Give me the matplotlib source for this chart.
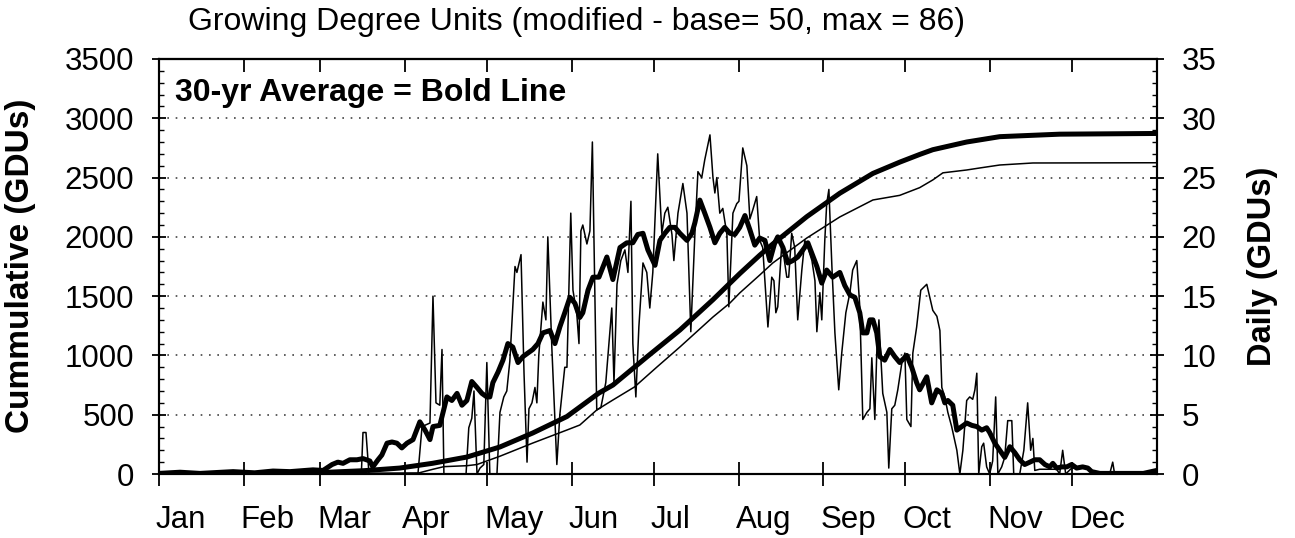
import matplotlib
matplotlib.use("Agg")
import matplotlib.pyplot as plt
import matplotlib.transforms as mtransforms
from matplotlib.ticker import MultipleLocator, FixedLocator, NullFormatter
import numpy as np

plt.rcParams['font.family'] = ['Liberation Sans', 'DejaVu Sans']

# ---------------- data (day of year, value) ----------------
months = ["Jan", "Feb", "Mar", "Apr", "May", "Jun", "Jul", "Aug", "Sep", "Oct", "Nov", "Dec"]
month_days = [31, 28, 31, 30, 31, 30, 31, 31, 30, 31, 30, 31]

avg_daily = [
    (0, 0.05), (7.7, 0.15), (15, 0.05), (27.1, 0.2), (35, 0.1), (41.7, 0.25), (47.9, 0.2),
    (56.3, 0.35), (60.0, 0.3),
    (63.3, 0.8), (65.4, 1.0), (67.3, 0.9), (69.8, 1.2), (72.4, 1.2), (74.6, 1.3), (77.1, 1.1),
    (78.2, 0.6), (80.1, 1.2), (81.5, 1.6), (83.4, 2.6), (85.2, 2.7), (87.0, 2.6), (88.8, 2.2),
    (90.7, 2.6), (92.9, 2.9), (95.4, 4.4), (97.3, 3.7), (99.1, 2.9), (100.2, 4.0), (102.7, 4.1),
    (105.3, 6.5), (107.1, 6.2), (109.0, 6.8), (110.8, 5.8), (112.6, 6.2), (114.4, 7.8),
    (116.3, 7.3), (118.1, 6.8), (119.9, 6.5), (121.0, 6.5), (122.1, 7.7), (124.0, 8.6),
    (125.8, 9.6), (127.6, 11.0), (129.4, 10.7), (131.3, 9.4), (133.1, 9.9), (134.9, 10.2),
    (136.7, 10.5), (138.6, 11.0), (140.4, 11.9), (143.0, 12.1), (144.8, 11.0), (146.6, 12.4),
    (148.4, 13.6), (150.3, 14.9), (152.1, 14.4), (153.9, 13.2), (155.0, 13.6), (156.9, 15.5),
    (158.7, 16.6), (160.9, 16.6), (163.8, 18.3), (166.0, 16.4), (168.6, 19.1), (171.1, 19.5),
    (173.3, 19.5), (175.1, 20.2), (177.0, 20.3), (178.8, 18.9), (181.4, 17.6), (183.2, 19.7),
    (185.0, 20.3), (186.8, 20.8), (188.7, 20.8), (190.5, 20.3), (193.1, 19.7), (194.9, 20.3),
    (196.0, 21.2), (197.8, 23.1), (199.6, 22.0), (201.5, 20.8), (203.3, 19.5), (205.1, 20.3),
    (206.9, 20.8), (208.8, 20.3), (210.6, 20.2), (212.4, 20.8), (214.3, 21.8), (216.1, 20.6),
    (217.9, 19.3), (219.7, 19.9), (221.6, 19.7), (223.4, 18.0), (225.2, 19.5), (226.3, 20.0),
    (228.2, 19.1), (230.0, 17.8), (231.8, 18.0), (233.6, 18.3), (235.5, 18.9), (237.3, 19.5),
    (238.8, 18.6), (240.6, 17.5), (242.4, 16.1), (244.2, 17.2), (246.4, 16.6), (249.0, 17.0),
    (250.8, 15.9), (252.7, 15.1), (254.5, 14.9), (256.3, 13.6), (257.4, 11.9), (258.9, 11.9),
    (260.0, 13.0), (261.1, 13.0), (262.5, 11.9), (263.6, 9.9), (265.4, 9.6), (267.3, 10.5),
    (269.1, 9.9), (270.9, 9.4), (273.5, 10.0), (275.3, 9.0), (277.1, 7.7), (278.2, 7.1),
    (280.8, 8.2), (282.6, 6.0), (284.5, 7.1), (286.3, 6.8), (287.4, 6.0), (288.5, 6.2),
    (290.3, 5.8), (291.8, 3.7), (293.6, 4.0), (295.4, 4.3), (297.3, 4.1), (299.1, 4.0),
    (300.9, 3.7), (302.7, 3.9), (303.8, 3.5), (305.7, 2.6), (307.5, 2.0), (309.3, 1.4),
    (311.2, 2.3), (313.0, 1.8), (314.8, 1.2), (316.6, 0.8), (318.5, 1.0), (320.3, 1.2),
    (322.1, 1.2), (324.0, 0.8), (325.8, 0.6), (326.9, 0.9), (328.3, 0.5), (330.2, 0.6),
    (332.0, 0.6), (333.8, 0.8), (335.6, 0.5), (337.8, 0.6), (339.7, 0.5), (341.1, 0.2),
    (344.1, 0.05), (360, 0.05), (364.9, 0.3),
]

cur_daily = [
    (0, 0), (74.0, 0), (74.6, 3.5), (75.7, 3.5), (76.8, 0), (94.7, 0), (96.2, 4.0), (99.1, 4.3),
    (100.2, 15.0), (101.3, 6.0), (102.7, 5.8), (103.5, 10.5), (104.2, 0), (112.3, 0), (113.3, 3.9),
    (114.4, 4.7), (115.2, 7.0), (116.3, 0), (117.4, 0.5), (118.8, 0.8), (119.9, 9.4), (121.0, 0),
    (123.6, 0), (124.7, 5.2), (126.1, 6.5), (127.2, 7.0), (128.3, 9.5), (130.2, 17.5), (130.9, 17.0),
    (132.4, 18.5), (133.5, 8.5), (134.6, 1.0), (135.3, 5.5), (136.4, 6.0), (137.5, 7.3), (138.2, 6.0),
    (138.9, 10.0), (140.4, 14.5), (141.5, 13.0), (142.2, 20.0), (143.7, 10.5), (145.5, 0.8),
    (146.6, 5.0), (148.4, 9.0), (149.2, 9.0), (150.6, 22.0), (151.4, 15.5), (152.8, 13.5),
    (153.6, 11.0), (154.3, 20.5), (155.0, 21.0), (156.5, 19.4), (157.6, 20.5), (158.5, 28.0),
    (160.1, 5.4), (161.6, 5.6), (163.4, 7.7), (165.6, 14.0), (166.4, 7.7), (167.5, 16.0),
    (168.9, 18.0), (170.4, 18.9), (171.5, 17.0), (172.6, 23.0), (173.3, 11.0), (174.4, 6.5),
    (175.5, 12.4), (177.0, 17.8), (178.4, 17.0), (179.5, 14.0), (180.6, 17.0), (182.4, 27.0),
    (183.9, 20.3), (185.0, 22.0), (186.1, 22.5), (187.6, 20.2), (188.3, 18.0), (189.8, 22.0),
    (191.6, 24.5), (193.1, 22.0), (194.5, 12.0), (196.0, 20.3), (197.1, 25.5), (198.5, 25.0),
    (199.6, 26.5), (201.5, 28.6), (202.6, 25.0), (203.3, 23.7), (204.0, 25.0), (205.1, 22.0),
    (206.2, 22.4), (207.7, 20.2), (208.4, 14.1), (209.9, 22.0), (211.3, 22.8), (212.1, 23.0),
    (213.5, 27.5), (215.0, 26.0), (216.1, 21.5), (217.2, 22.3), (218.6, 23.4), (219.7, 19.7),
    (220.8, 19.1), (221.9, 15.3), (222.7, 12.4), (224.1, 16.6), (224.9, 16.3), (225.6, 13.6),
    (226.3, 14.1), (227.8, 19.5), (229.6, 16.6), (230.3, 16.6), (231.4, 20.3), (232.5, 19.1),
    (233.6, 13.0), (235.1, 17.2), (236.2, 19.7), (237.3, 19.1), (238.8, 18.0), (239.9, 16.3),
    (240.6, 12.0), (241.7, 15.3), (242.4, 13.0), (243.5, 19.7), (244.2, 22.8), (245.0, 24.0),
    (246.1, 17.5), (247.2, 11.9), (248.6, 7.1), (249.7, 10.2), (251.2, 13.6), (252.7, 15.3),
    (253.7, 17.2), (255.2, 18.0), (256.3, 14.1), (257.4, 4.6), (258.9, 5.2), (260.0, 5.5),
    (260.7, 9.8), (261.8, 4.6), (262.5, 10.2), (263.3, 13.0), (264.7, 6.8), (266.2, 5.2),
    (266.9, 0.5), (268.0, 5.5), (269.1, 5.8), (270.2, 7.1), (271.7, 9.4), (272.8, 10.2),
    (273.5, 4.6), (275.0, 4.0), (275.7, 10.2), (277.1, 12.4), (278.6, 15.5), (280.8, 16.0),
    (283.0, 13.8), (284.5, 13.3), (285.6, 12.1), (286.3, 7.3), (287.4, 6.5), (288.5, 5.2),
    (289.9, 4.0), (291.8, 2.0), (292.9, 0), (294.0, 2.0), (295.4, 6.2), (296.5, 6.5),
    (297.6, 6.3), (298.4, 7.1), (299.1, 8.5), (299.8, 0), (300.9, 2.3), (301.6, 2.6),
    (302.7, 0.6), (303.8, 0), (304.9, 1.1), (306.0, 6.5), (306.8, 0), (308.2, 0.6), (309.3, 1.4),
    (310.4, 4.5), (311.9, 4.5), (312.6, 0), (314.8, 0), (316.3, 2.0), (317.7, 6.0), (318.8, 2.0),
    (319.6, 3.0), (320.3, 0.3), (322.1, 0.4), (328.3, 0.4), (329.4, 0), (330.5, 2.0), (331.6, 0),
    (333.8, 0.5), (340.4, 0.5), (341.5, 0), (347.7, 0), (348.8, 1.0), (349.5, 0), (364.9, 0.2),
]

avg_cum = [
    (0, 0), (31, 3), (59, 12), (75, 28), (88, 50), (100, 90), (112.6, 143), (124.7, 228),
    (136.7, 346), (149.2, 485), (160.9, 683), (166.0, 750), (178.4, 987), (190.5, 1214),
    (202.6, 1470), (212.4, 1690), (219.7, 1845), (224.5, 1940), (236.9, 2170), (249.0, 2368),
    (261.1, 2535), (270.9, 2630), (278.2, 2695), (283.0, 2735), (295.4, 2800), (307.5, 2845),
    (329.4, 2866), (364.9, 2872),
]

cur_cum = [
    (0, 0), (74, 0), (77, 7), (95, 9), (100.2, 40), (104.2, 62), (112.6, 70), (116.3, 80),
    (124.7, 150), (136.7, 261), (149.2, 371), (153.9, 413), (160.1, 540), (166.0, 624),
    (173.9, 734), (182.1, 902), (190.5, 1071), (202.6, 1324), (208.8, 1442), (212.4, 1527),
    (219.7, 1678), (224.5, 1780), (236.9, 1990), (249.0, 2168), (261.1, 2311), (270.9, 2350),
    (278.2, 2415), (283.0, 2480), (286.7, 2540), (295.4, 2564), (300.2, 2581), (307.5, 2606),
    (319.6, 2623), (364.9, 2625),
]

title = "Growing Degree Units (modified - base= 50, max = 86)"
note = "30-yr Average = Bold Line"
ylabel_left = "Cummulative (GDUs)"
ylabel_right = "Daily (GDUs)"

# ---------------- figure ----------------
W, H = 1295, 538
fig = plt.figure(figsize=(W / 100, H / 100), dpi=100)
ax = fig.add_axes([159 / W, 1 - 474 / H, (1157 - 159) / W, (474 - 59) / H])
ax2 = ax.twinx()

def unzip(p):
    a = np.array(p, dtype=float)
    return a[:, 0], a[:, 1]

ax.set_xlim(0, 365)
ax.set_ylim(0, 3500)
ax2.set_ylim(0, 35)

# grid
for v in range(500, 3001, 500):
    ax.axhline(v, color='#444444', lw=1.2, ls=(0, (1, 4)), zorder=1)

x, y = unzip(avg_cum)
ax.plot(x, y, color='black', lw=3.6, solid_capstyle='round', zorder=3)
x, y = unzip(cur_cum)
ax.plot(x, y, color='black', lw=1.1, zorder=3)
x, y = unzip(avg_daily)
ax2.plot(x, y, color='black', lw=3.6, solid_joinstyle='round', solid_capstyle='round', zorder=3)
x, y = unzip(cur_daily)
ax2.plot(x, y, color='black', lw=1.1, zorder=3)

TS = 22.5
# ticks
starts = np.concatenate([[0], np.cumsum(month_days)[:-1]])
ax.xaxis.set_major_locator(FixedLocator(starts))
ax.xaxis.set_major_formatter(NullFormatter())
ax.tick_params(axis='x', which='major', direction='inout', length=17, width=1.3,
               top=False, bottom=True)
top = ax.secondary_xaxis('top')
top.set_xticks(starts)
top.set_xticklabels([])
top.tick_params(axis='x', direction='in', length=9, width=1.3)
top.spines['top'].set_linewidth(1.5)

ax.yaxis.set_major_locator(MultipleLocator(500))
ax.yaxis.set_minor_locator(MultipleLocator(100))
ax.tick_params(axis='y', which='major', direction='inout', length=9.5, width=1.3,
               labelsize=TS, pad=13)
ax.tick_params(axis='y', which='minor', direction='in', length=3.8, width=1.0)
ax2.yaxis.set_major_locator(MultipleLocator(5))
ax2.yaxis.set_minor_locator(MultipleLocator(1))
ax2.tick_params(axis='y', which='major', direction='inout', length=9.5, width=1.3,
                labelsize=TS, pad=13)
ax2.tick_params(axis='y', which='minor', direction='in', length=3.8, width=1.0)

for a in (ax, ax2):
    for s in a.spines.values():
        s.set_linewidth(1.5)

# month labels (left aligned at month start)
offs = mtransforms.offset_copy(ax.get_xaxis_transform(), fig=fig, x=-3, y=0, units='dots')
for d, m in zip(starts, months):
    ax.text(d, -54 / 415, m, transform=offs, ha='left', va='baseline', fontsize=TS)

fig.text(577 / W, 1 - 22 / H, title, ha='center', va='center', fontsize=23)
ax.text(175 / W, 1 - 93 / H, note, transform=fig.transFigure, ha='left', va='center',
        fontsize=23, fontweight='bold')
fig.text(21 / W, 1 - 266 / H, ylabel_left, rotation=90, ha='center', va='center',
         fontsize=24, fontweight='bold')
fig.text(1262 / W, 1 - 266 / H, ylabel_right, rotation=90, ha='center', va='center',
         fontsize=23.5, fontweight='bold')

fig.savefig("out.png", dpi=100)
